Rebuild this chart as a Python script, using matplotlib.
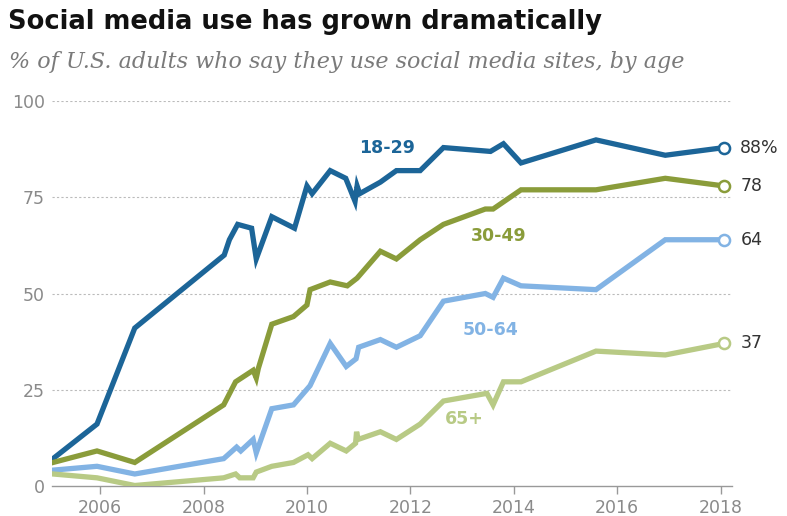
import matplotlib.pyplot as plt

# survey dates (decimal years) and % using social media
x_1829 = [2005.09, 2005.94, 2006.67, 2008.4, 2008.5, 2008.66, 2008.93, 2009.02, 2009.32,
          2009.76, 2010.0, 2010.1, 2010.45, 2010.75, 2010.93, 2010.97, 2011.02, 2011.42,
          2011.73, 2012.19, 2012.64, 2013.55, 2013.8, 2014.14, 2015.59, 2016.93, 2018.07]
y_1829 = [7, 16, 41, 60, 64, 68, 67, 59, 70,
          67, 78, 76, 82, 80, 74, 78, 76, 79,
          82, 82, 88, 87, 89, 84, 90, 86, 88]

x_3049 = [2005.09, 2005.94, 2006.67, 2008.39, 2008.62, 2008.96, 2009.02, 2009.06, 2009.32,
          2009.74, 2010.0, 2010.06, 2010.45, 2010.78, 2010.97, 2011.42, 2011.73, 2012.19,
          2012.64, 2013.45, 2013.6, 2014.14, 2015.59, 2016.93, 2018.07]
y_3049 = [6, 9, 6, 21, 27, 30, 28, 30.5, 42,
          44, 47, 51, 53, 52, 54, 61, 59, 64,
          68, 72, 72, 77, 77, 80, 78]

x_5064 = [2005.09, 2005.94, 2006.67, 2008.39, 2008.64, 2008.72, 2008.96, 2009.02, 2009.32,
          2009.74, 2010.06, 2010.45, 2010.76, 2010.95, 2011.0, 2011.42, 2011.73, 2012.19,
          2012.64, 2013.45, 2013.6, 2013.8, 2014.14, 2015.59, 2016.93, 2018.07]
y_5064 = [4, 5, 3, 7, 10, 9, 12, 8.5, 20,
          21, 26, 37, 31, 33, 36, 38, 36, 39,
          48, 50, 49, 54, 52, 51, 64, 64]

x_65 = [2005.09, 2005.94, 2006.67, 2008.39, 2008.62, 2008.7, 2008.96, 2009.02, 2009.32,
        2009.74, 2010.02, 2010.1, 2010.45, 2010.76, 2010.94, 2010.96, 2010.99, 2011.42,
        2011.73, 2012.19, 2012.64, 2013.48, 2013.6, 2013.8, 2014.14, 2015.59, 2016.93, 2018.07]
y_65 = [3, 2, 0, 2, 3, 2, 2, 3.5, 5,
        6, 8, 7, 11, 9, 11, 14, 12, 14,
        12, 16, 22, 24, 21, 27, 27, 35, 34, 37]

groups = ["18-29", "30-49", "50-64", "65+"]
end_labels = ["88%", "78", "64", "37"]
colors = ["#1c6598", "#8a9c3a", "#82b3e4", "#b8ca85"]

series = [(x_1829, y_1829), (x_3049, y_3049), (x_5064, y_5064), (x_65, y_65)]
# where the group names sit
name_pos = [(2011.55, 88), (2013.7, 65), (2013.55, 40.5), (2013.05, 17.3)]

fig = plt.figure(figsize=(7.87, 5.16), dpi=100)
ax = fig.add_axes([0.0661, 0.0591, 0.864, 0.7442])

for (xs, ys), c, g, lab, (nx, ny) in zip(series, colors, groups, end_labels, name_pos):
    ax.plot(xs, ys, color=c, lw=3.8, solid_joinstyle="miter", zorder=3)
    ax.plot(xs[-1], ys[-1], "o", ms=8, mfc="white", mec=c, mew=1.8, zorder=4, clip_on=False)
    ax.text(xs[-1] + 0.31, ys[-1], lab, color="#333333", fontsize=12.5, va="center",
            ha="left", clip_on=False)
    ax.text(nx, ny, g, color=c, fontsize=12.5, fontweight="bold", ha="center", va="center")

ax.set_xlim(2005.07, 2018.22)
ax.set_ylim(0, 100)
ax.set_yticks([0, 25, 50, 75, 100])
ax.set_xticks([2006, 2008, 2010, 2012, 2014, 2016, 2018])

for v in [25, 50, 75, 100]:
    ax.axhline(v, color="#bbbbbb", lw=0.8, ls=(0, (2, 2)), zorder=1)

for s in ["top", "right", "left"]:
    ax.spines[s].set_visible(False)
ax.spines["bottom"].set_color("#999999")
ax.spines["bottom"].set_linewidth(1)
ax.tick_params(axis="x", colors="#999999", labelsize=12.5, length=6, width=1, pad=4)
ax.tick_params(axis="y", colors="#999999", labelsize=12.5, length=0, pad=5)
for t in ax.get_xticklabels() + ax.get_yticklabels():
    t.set_color("#8a8a8a")

fig.text(0.01, 0.958, "Social media use has grown dramatically", fontsize=18.5,
         fontweight="bold", color="#111111", va="center", ha="left")
fig.text(0.012, 0.88, "% of U.S. adults who say they use social media sites, by age",
         fontsize=16, style="italic", family="DejaVu Serif", color="#7a7a7a",
         va="center", ha="left")

fig.savefig("out.png", dpi=100)
